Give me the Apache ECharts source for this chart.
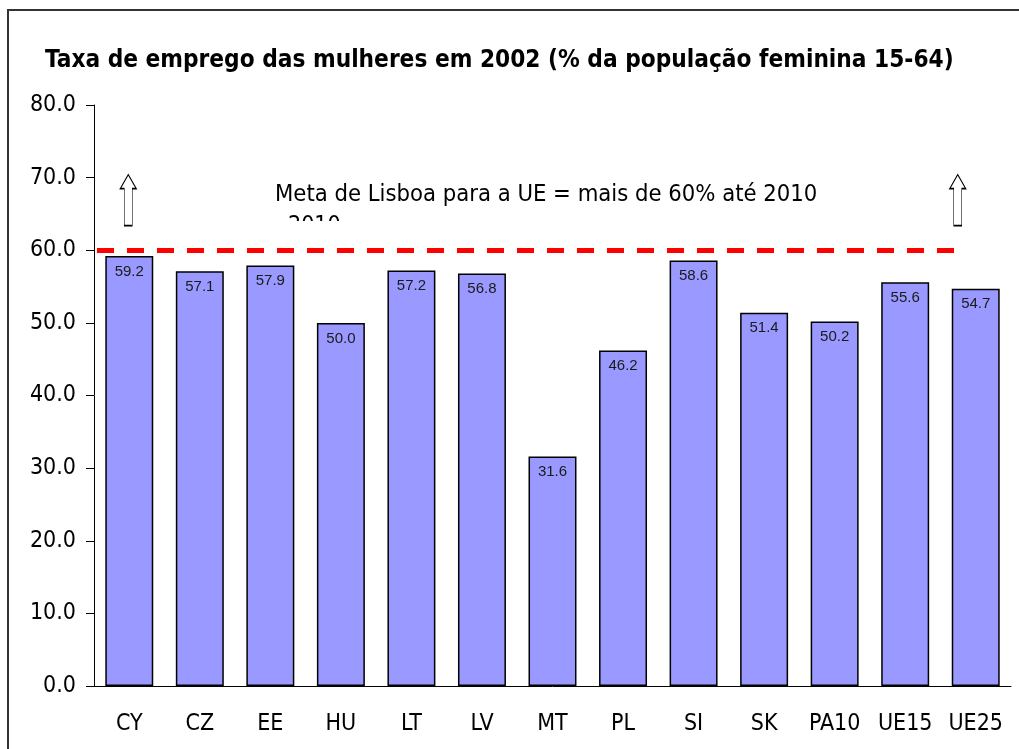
<!DOCTYPE html>
<html lang="pt">
<head>
    <meta charset="UTF-8">
    <title>Taxa de emprego das mulheres em 2002</title>
    <script src="https://cdn.jsdelivr.net/npm/echarts@6/dist/echarts.min.js"></script>
    <style>
        body { margin: 0; background: #fff; }
        #chart { width: 1019px; height: 749px; }
    </style>
</head>
<body>
    <div id="chart"></div>
    <script>
        // dados
        const countries = ['CY', 'CZ', 'EE', 'HU', 'LT', 'LV', 'MT', 'PL', 'SI', 'SK', 'PA10', 'UE15', 'UE25'];
        const employmentRate = [59.2, 57.1, 57.9, 50.0, 57.2, 56.8, 31.6, 46.2, 58.6, 51.4, 50.2, 55.6, 54.7];
        const lisbonTarget = 60;
        const arrowLevel = 66.9;
        const yTicks = [0, 10, 20, 30, 40, 50, 60, 70, 80];

        const narrow = '"Liberation Sans Narrow", "DejaVu Sans Condensed", "Liberation Sans", Arial, sans-serif';
        const arrowPath = 'path://M8,0 L16,14 L12,14 L12,51 L4,51 L4,14 L0,14 Z';

        const chart = echarts.init(document.getElementById('chart'));
        const option = {
            backgroundColor: '#fff',
            animation: false,
            title: {
                text: 'Taxa de emprego das mulheres em 2002 (% da população feminina 15-64)',
                left: 40,
                top: 44,
                textStyle: { fontFamily: narrow, fontWeight: 'bold', fontSize: 24.2, color: '#000' }
            },
            grid: { left: 94, right: 8, top: 105, bottom: 63 },
            xAxis: {
                type: 'category',
                data: countries,
                axisLine: { lineStyle: { color: '#000', width: 1 } },
                axisTick: { length: 8, lineStyle: { color: '#000' } },
                axisLabel: { interval: 0, margin: 27, fontFamily: narrow, fontSize: 23, color: '#000' }
            },
            yAxis: {
                type: 'value',
                min: yTicks[0],
                max: yTicks[yTicks.length - 1],
                interval: 10,
                splitLine: { show: false },
                axisLine: { show: true, lineStyle: { color: '#000', width: 1 } },
                axisTick: { show: true, length: 8, lineStyle: { color: '#000' } },
                axisLabel: {
                    margin: 18, fontFamily: narrow, fontSize: 23, color: '#000',
                    formatter: v => v.toFixed(1)
                }
            },
            series: [{
                type: 'bar',
                data: employmentRate,
                barCategoryGap: '32%',
                itemStyle: { color: '#9999FF', borderColor: '#000', borderWidth: 1.5 },
                label: {
                    show: true,
                    position: 'insideTop',
                    distance: 8,
                    fontFamily: 'Liberation Sans, Arial, sans-serif',
                    fontSize: 15,
                    color: '#1a1a1a',
                    formatter: p => p.value.toFixed(1)
                },
                markLine: {
                    silent: true,
                    symbol: 'none',
                    label: { show: false },
                    lineStyle: { color: '#FF0000', type: [17, 13], width: 5 },
                    data: [[{ x: 97, yAxis: lisbonTarget }, { x: 966, yAxis: lisbonTarget }]]
                },
                markPoint: {
                    silent: true,
                    symbol: arrowPath,
                    symbolSize: [16, 51],
                    label: { show: false },
                    itemStyle: { color: '#fff', borderColor: '#000', borderWidth: 1 },
                    data: [
                        { coord: [countries[0], arrowLevel], symbolOffset: [-1, 0] },
                        { coord: [countries[countries.length - 1], arrowLevel], symbolOffset: [-18, 0] }
                    ]
                }
            }],
            graphic: [
                {
                    type: 'rect',
                    shape: { x: 8, y: 10, width: 1040, height: 760 },
                    style: { fill: 'none', stroke: '#333', lineWidth: 2 },
                    silent: true
                },
                {
                    type: 'text',
                    left: 275,
                    top: 183,
                    style: { text: 'Meta de Lisboa para a UE = mais de 60% até 2010', font: '23.6px ' + narrow, fill: '#000' },
                    z: 5
                },
                {
                    type: 'text',
                    left: 288,
                    top: 215,
                    style: { text: '2010', font: '23px ' + narrow, fill: '#000' },
                    z: 5
                },
                {
                    type: 'rect',
                    shape: { x: 280, y: 221, width: 60, height: 25 },
                    style: { fill: '#fff' },
                    z: 6
                }
            ]
        };
        chart.setOption(option);
    </script>
</body>
</html>
